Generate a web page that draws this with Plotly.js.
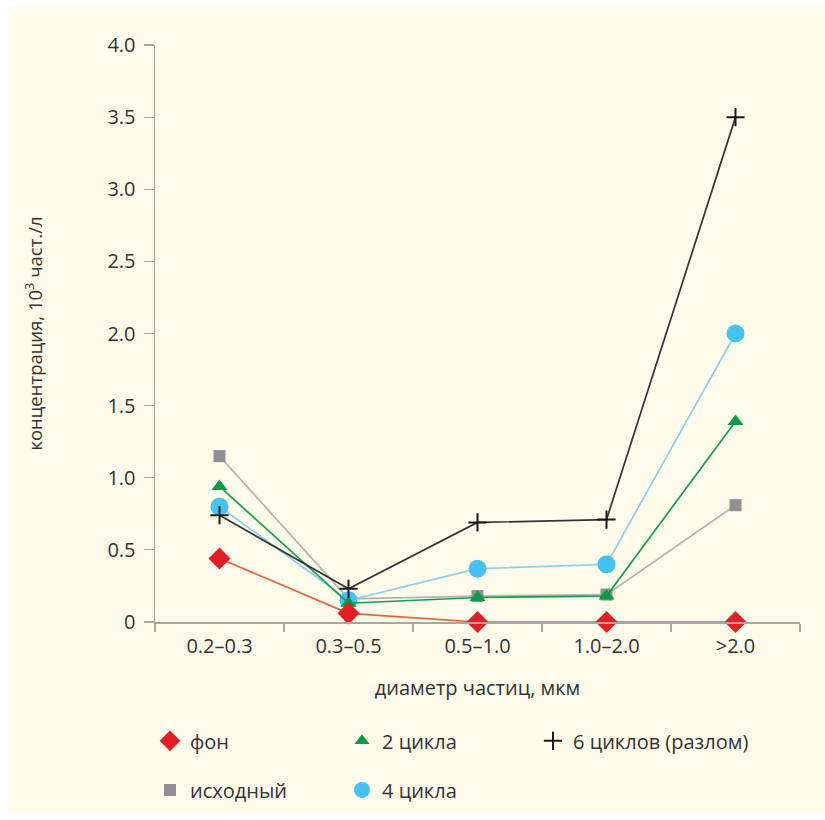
<!DOCTYPE html>
<html>
<head>
<meta charset="utf-8">
<script src="https://cdn.plot.ly/plotly-3.0.1.min.js"></script>
<style>
  html, body { margin: 0; padding: 0; background: #ffffff; }
  #chart { position: absolute; left: 8px; top: 7px; width: 817px; height: 806px; }
</style>
</head>
<body>
<div id="chart"></div>
<script>
// Particle size classes (µm)
const categories = ['0.2–0.3', '0.3–0.5', '0.5–1.0', '1.0–2.0', '>2.0'];

// Concentration, 10³ particles per litre
const fon      = [0.44, 0.06, 0.00, 0.00, 0.00];
const iskhodny = [1.15, 0.16, 0.18, 0.19, 0.81];
const cycles2  = [0.94, 0.13, 0.17, 0.18, 1.39];
const cycles4  = [0.80, 0.15, 0.37, 0.40, 2.00];
const cycles6  = [0.74, 0.23, 0.69, 0.71, 3.50];

const yTickVals = [0, 0.5, 1.0, 1.5, 2.0, 2.5, 3.0, 3.5, 4.0];
const yTickText = ['0', '0.5', '1.0', '1.5', '2.0', '2.5', '3.0', '3.5', '4.0'];

const FONT = '"Open Sans", "Noto Sans", sans-serif';
const TEXT = '#333333';

const series = [
  { name: 'исходный', y: iskhodny, line: '#b3b3b3', marker: { symbol: 'square', size: 12, color: '#8f8f95' }, legendMarker: { symbol: 'square', size: 12, color: '#8f8f95' }, legend: 'legend2', rank: 1 },
  { name: '4 цикла', y: cycles4, line: '#8dd0ee', marker: { symbol: 'circle', size: 18, color: '#45c2f0' }, legendMarker: { symbol: 'circle', size: 17, color: '#45c2f0' }, legend: 'legend2', rank: 2 },
  { name: '2 цикла', y: cycles2, line: '#169c50', marker: { symbol: 'triangle-up', size: 14, color: '#0a9a48' }, legendMarker: { symbol: 'triangle-up', size: 13, color: '#0a9a48' }, legend: 'legend', rank: 2 },
  { name: '6 циклов (разлом)', y: cycles6, line: '#333333', marker: { symbol: 'cross-thin', size: 13, color: '#1a1a1a', line: { width: 2, color: '#1a1a1a' } }, legendMarker: { symbol: 'cross-thin', size: 13, color: '#1a1a1a', line: { width: 2, color: '#1a1a1a' } }, legend: 'legend3', rank: 1 },
  { name: 'фон', y: fon, line: '#e8623e', marker: { symbol: 'diamond', size: 17, color: '#e41e26' }, legendMarker: { symbol: 'diamond', size: 16, color: '#e41e26' }, legend: 'legend', rank: 1 }
];

const traces = [];
// Data lines with markers
series.forEach(s => {
  traces.push({
    type: 'scatter', mode: 'lines+markers',
    x: categories, y: s.y, name: s.name,
    line: { color: s.line, width: 1.7 },
    marker: s.marker,
    cliponaxis: false,
    showlegend: false,
    hoverinfo: 'x+y+name'
  });
});
// Marker-only legend entries
series.forEach(s => {
  traces.push({
    type: 'scatter', mode: 'markers',
    x: [null], y: [null], name: s.name,
    marker: s.legendMarker,
    legend: s.legend, legendrank: s.rank,
    showlegend: true, hoverinfo: 'skip'
  });
});

// Legend columns start at 150, 342 and 533 px on the page
const PLOT_LEFT = 155, PLOT_W = 645;
const colX = px => (px - PLOT_LEFT) / PLOT_W;

const legendCommon = {
  orientation: 'h', xanchor: 'left', yanchor: 'middle',
  entrywidth: 147, entrywidthmode: 'pixels',
  bgcolor: 'rgba(0,0,0,0)', borderwidth: 0,
  font: { family: FONT, size: 20, color: TEXT },
  traceorder: 'normal'
};

const layout = {
  width: 817, height: 806,
  paper_bgcolor: '#fefbea',
  plot_bgcolor: '#fefbea',
  margin: { l: 147, r: 25, t: 38, b: 191, autoexpand: false },
  font: { family: FONT, size: 20, color: TEXT },
  showlegend: true,
  xaxis: {
    type: 'category',
    range: [-0.5, 4.5],
    showline: true, linecolor: '#a8a8a0', linewidth: 1.5,
    ticks: 'outside', tickson: 'boundaries', ticklen: 8, tickwidth: 1.2, tickcolor: '#a8a8a0',
    ticklabelstandoff: 5,
    showgrid: false, zeroline: false,
    tickfont: { family: FONT, size: 20, color: TEXT },
    title: { text: 'диаметр частиц, мкм', font: { family: FONT, size: 20, color: TEXT }, standoff: 23 },
    automargin: false
  },
  yaxis: {
    range: [0, 4],
    tickvals: yTickVals, ticktext: yTickText,
    showline: true, linecolor: '#a8a8a0', linewidth: 1.5,
    ticks: 'outside', ticklen: 10, tickwidth: 1.2, tickcolor: '#a8a8a0',
    ticklabelstandoff: 4,
    showgrid: false, zeroline: false,
    tickfont: { family: FONT, size: 20, color: TEXT },
    title: { text: 'концентрация, 10<sup>3</sup> част./л', font: { family: FONT, size: 18.5, color: TEXT }, standoff: 60 },
    automargin: false
  },
  legend:  Object.assign({}, legendCommon, { x: colX(150), y: -0.206 }),
  legend2: Object.assign({}, legendCommon, { x: colX(150), y: -0.291 }),
  legend3: Object.assign({}, legendCommon, { x: colX(533), y: -0.206, entrywidth: 200 })
};

Plotly.newPlot('chart', traces, layout, { displayModeBar: false, staticPlot: true });
</script>
</body>
</html>
